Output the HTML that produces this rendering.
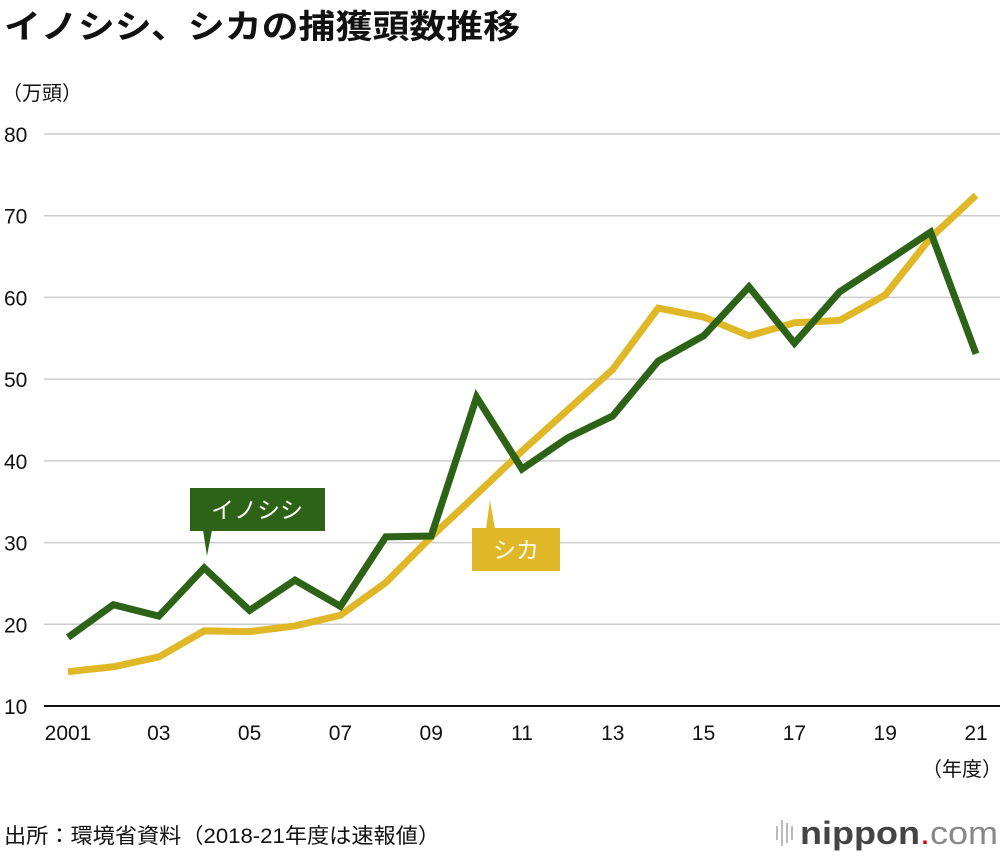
<!DOCTYPE html>
<html><head><meta charset="utf-8"><style>
body{margin:0;background:#fff;width:1000px;height:856px;overflow:hidden;font-family:"Liberation Sans","Noto Sans CJK JP",sans-serif;}
</style></head><body>
<svg id="c" width="1000" height="856" xmlns="http://www.w3.org/2000/svg">
<text x="4" y="38" font-size="33" font-weight="bold" fill="#111" textLength="516" lengthAdjust="spacingAndGlyphs">イノシシ、シカの捕獲頭数推移</text>
<text x="2" y="100" font-size="20" fill="#111">（万頭）</text>
<g id="grid"></g><g id="lines"></g>
<g>
<rect x="190" y="488" width="135" height="43" fill="#2d6316"/>
<polygon points="203,530 212,530 207,556" fill="#2d6316"/>
<text x="257" y="518" font-size="23" fill="#fff" text-anchor="middle">イノシシ</text></g>
<g>
<rect x="472" y="528" width="88" height="43" fill="#e0b827"/>
<polygon points="486,529 495,529 490,500" fill="#e0b827"/>
<text x="516" y="558" font-size="23" fill="#fff" text-anchor="middle">シカ</text></g>
<text x="962" y="776" font-size="20" fill="#111" text-anchor="middle">（年度）</text>
<text x="4" y="843" font-size="21" fill="#111" textLength="436" lengthAdjust="spacingAndGlyphs">出所：環境省資料（2018-21年度は速報値）</text>
<g>
<rect x="776" y="826" width="2" height="14" fill="#bbb"/><rect x="781" y="820" width="2" height="26" fill="#bbb"/><rect x="786" y="823" width="2" height="20" fill="#bbb"/><rect x="791" y="826" width="2" height="14" fill="#bbb"/>
<text x="800" y="844" font-size="32" fill="#444" textLength="198" lengthAdjust="spacingAndGlyphs"><tspan font-weight="bold">nippon</tspan><tspan fill="#d00">.</tspan><tspan fill="#888">com</tspan></text></g>
</svg>
<script>
const years=[2001,2002,2003,2004,2005,2006,2007,2008,2009,2010,2011,2012,2013,2014,2015,2016,2017,2018,2019,2020,2021];
const inoshishi=[18.4,22.4,21.0,26.9,21.7,25.4,22.2,30.7,30.8,47.8,39.0,42.8,45.5,52.2,55.3,61.3,54.4,60.7,64.3,68.0,53.1];
const shika=[14.2,14.8,16.0,19.2,19.1,19.8,21.1,25.1,30.7,35.9,41.2,46.2,51.2,58.7,57.6,55.3,56.9,57.2,60.3,67.3,72.5];
const yTicks=[10,20,30,40,50,60,70,80];
const xTickYears=[2001,2003,2005,2007,2009,2011,2013,2015,2017,2019,2021];
const xTickLabels=["2001","03","05","07","09","11","13","15","17","19","21"];
const NS="http://www.w3.org/2000/svg";
const xs=y=>68+(y-2001)*(976-68)/20;
const ys=v=>706-(v-10)*(706-134)/70;
const grid=document.getElementById('grid'),lines=document.getElementById('lines');
function mk(tag,attrs,parent){const e=document.createElementNS(NS,tag);for(const k in attrs)e.setAttribute(k,attrs[k]);parent.appendChild(e);return e;}
yTicks.forEach(v=>{
 const l=mk('line',{x1:44,x2:1000,y1:ys(v),y2:ys(v),stroke:v===10?'#111':'#ccc','stroke-width':v===10?2:1.5},grid);
 
 
 const t=mk('text',{x:4,y:ys(v)+8,'font-size':21,fill:'#111'},grid);t.textContent=v;
 
 
});
xTickYears.forEach((yr,i)=>{
 const t=mk('text',{x:xs(yr),y:740,'font-size':21,fill:'#111','text-anchor':'middle'},grid);t.textContent=xTickLabels[i];
 
 
});
function series(vals,col,name){
 const p=mk('polyline',{points:vals.map((v,i)=>xs(years[i])+','+ys(v)).join(' '),fill:'none',stroke:col,'stroke-width':7,'stroke-linejoin':'miter','stroke-linecap':'butt'},lines);
 
 
}
series(shika,'#e0b827','shika-line');
series(inoshishi,'#2d6316','inoshishi-line');
</script>
</body></html>
